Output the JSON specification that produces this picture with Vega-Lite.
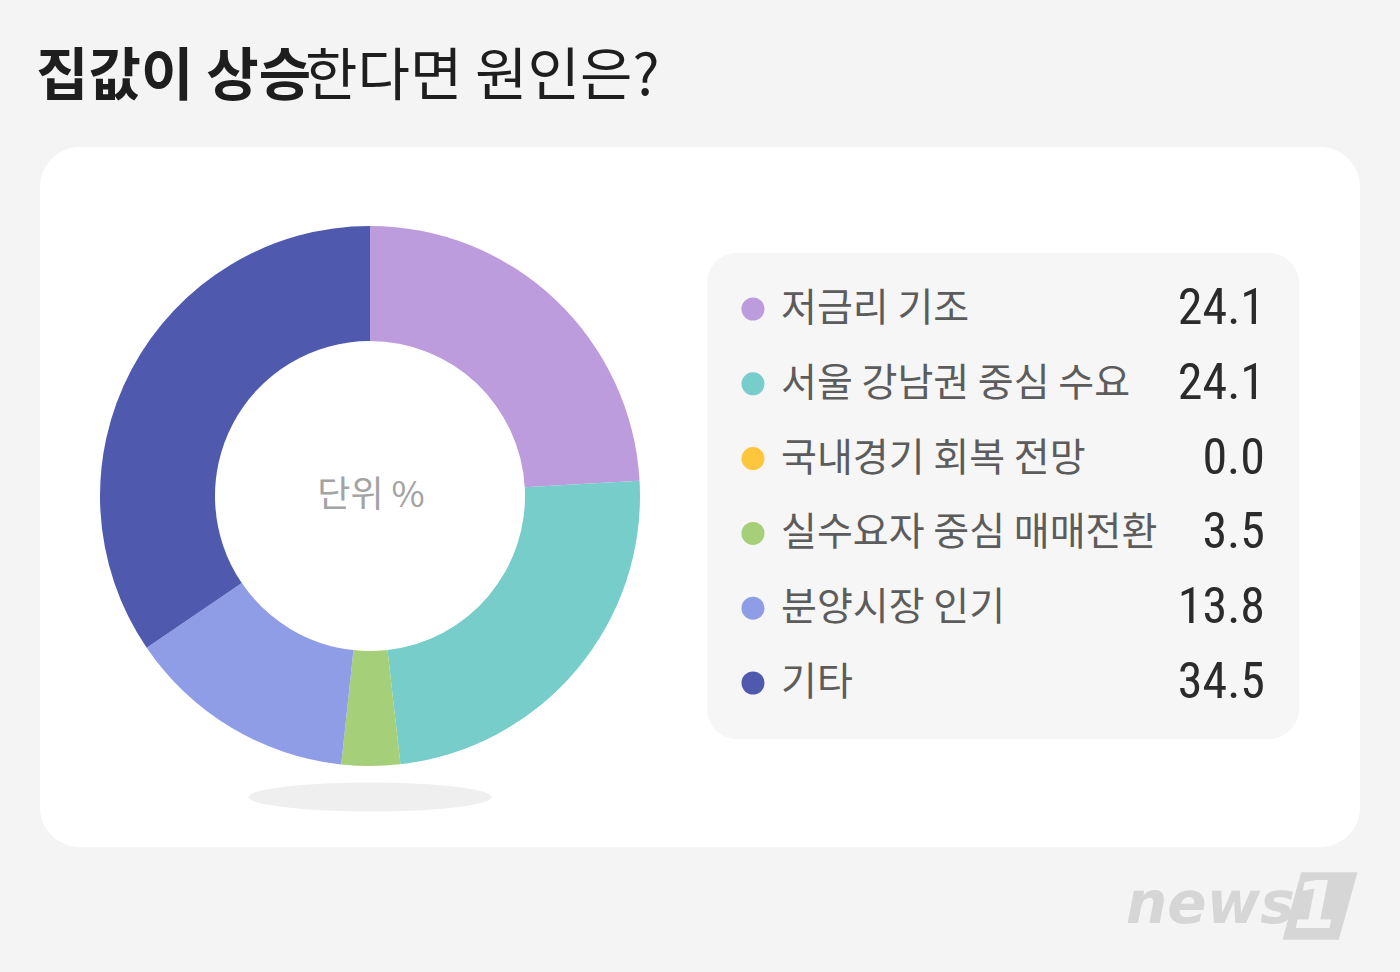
{
  "$schema": "https://vega.github.io/schema/vega-lite/v6.json",
  "width": 1400,
  "height": 972,
  "autosize": {"type": "fit", "contains": "padding"},
  "padding": 0,
  "background": "#f4f4f4",
  "config": {"view": {"stroke": null}},
  "datasets": {
    "shares": [
      {"rank": 1, "reason": "저금리 기조", "pct": 24.1, "shown": "24.1"},
      {"rank": 2, "reason": "서울 강남권 중심 수요", "pct": 24.1, "shown": "24.1"},
      {"rank": 3, "reason": "국내경기 회복 전망", "pct": 0.0, "shown": "0.0"},
      {"rank": 4, "reason": "실수요자 중심 매매전환", "pct": 3.5, "shown": "3.5"},
      {"rank": 5, "reason": "분양시장 인기", "pct": 13.8, "shown": "13.8"},
      {"rank": 6, "reason": "기타", "pct": 34.5, "shown": "34.5"}
    ],
    "one": [{}]
  },
  "resolve": {"scale": {"x": "independent", "y": "independent"}},
  "layer": [
    {
      "data": {"name": "one"},
      "mark": {"type": "rect", "fill": "#ffffff", "cornerRadius": 40},
      "encoding": {
        "x": {"datum": 40, "type": "quantitative", "scale": {"domain": [0, 1400]}, "axis": null},
        "x2": {"datum": 1360},
        "y": {"datum": 147, "type": "quantitative", "scale": {"domain": [0, 972], "reverse": true}, "axis": null},
        "y2": {"datum": 847}
      }
    },
    {
      "data": {"name": "one"},
      "mark": {"type": "rect", "fill": "#f6f6f6", "cornerRadius": 30},
      "encoding": {
        "x": {"datum": 707, "type": "quantitative", "scale": {"domain": [0, 1400]}, "axis": null},
        "x2": {"datum": 1299},
        "y": {"datum": 253, "type": "quantitative", "scale": {"domain": [0, 972], "reverse": true}, "axis": null},
        "y2": {"datum": 739}
      }
    },
    {
      "data": {"name": "one"},
      "mark": {"type": "point", "filled": true, "opacity": 1, "fill": "#efefef", "strokeWidth": 0, "shape": "M -1 0 A 1 0.12 0 1 0 1 0 A 1 0.12 0 1 0 -1 0 Z", "size": 59049},
      "encoding": {
        "x": {"datum": 370, "type": "quantitative", "scale": {"domain": [0, 1400]}, "axis": null},
        "y": {"datum": 797, "type": "quantitative", "scale": {"domain": [0, 972], "reverse": true}, "axis": null}
      }
    },
    {
      "data": {"name": "shares"},
      "mark": {"type": "arc", "innerRadius": 155, "outerRadius": 270},
      "encoding": {
        "x": {"datum": 370, "type": "quantitative", "scale": {"domain": [0, 1400]}, "axis": null},
        "y": {"datum": 496, "type": "quantitative", "scale": {"domain": [0, 972], "reverse": true}, "axis": null},
        "theta": {"field": "pct", "type": "quantitative", "stack": true},
        "order": {"field": "rank", "type": "quantitative", "sort": "ascending"},
        "color": {
          "field": "reason", "type": "nominal", "legend": null,
          "scale": {
            "domain": ["저금리 기조", "서울 강남권 중심 수요", "국내경기 회복 전망", "실수요자 중심 매매전환", "분양시장 인기", "기타"],
            "range": ["#bd9cde", "#77cdca", "#fdc63c", "#a6cf7a", "#8e9de5", "#4f5aaf"]
          }
        }
      }
    },
    {
      "data": {"name": "one"},
      "mark": {"type": "text", "text": "단위 %", "font": "Noto Sans CJK KR", "fontSize": 36, "fill": "#a3a3a3", "align": "center", "baseline": "middle"},
      "encoding": {
        "x": {"datum": 371, "type": "quantitative", "scale": {"domain": [0, 1400]}, "axis": null},
        "y": {"datum": 496, "type": "quantitative", "scale": {"domain": [0, 972], "reverse": true}, "axis": null}
      }
    },
    {
      "data": {"name": "shares"},
      "mark": {"type": "point", "filled": true, "opacity": 1, "size": 531, "shape": "circle"},
      "encoding": {
        "x": {"datum": 753, "type": "quantitative", "scale": {"domain": [0, 1400]}, "axis": null},
        "y": {"field": "rank", "type": "ordinal", "scale": {"type": "point", "range": [309, 683], "padding": 0}, "axis": null},
        "color": {
          "field": "reason", "type": "nominal", "legend": null,
          "scale": {
            "domain": ["저금리 기조", "서울 강남권 중심 수요", "국내경기 회복 전망", "실수요자 중심 매매전환", "분양시장 인기", "기타"],
            "range": ["#bd9cde", "#77cdca", "#fdc63c", "#a6cf7a", "#8e9de5", "#4f5aaf"]
          }
        }
      }
    },
    {
      "data": {"name": "shares"},
      "mark": {"type": "text", "font": "Noto Sans CJK KR", "fontSize": 39, "fill": "#5c5c5c", "align": "left", "baseline": "middle"},
      "encoding": {
        "x": {"datum": 781, "type": "quantitative", "scale": {"domain": [0, 1400]}, "axis": null},
        "y": {"field": "rank", "type": "ordinal", "scale": {"type": "point", "range": [309, 683], "padding": 0}, "axis": null},
        "text": {"field": "reason"}
      }
    },
    {
      "data": {"name": "shares"},
      "mark": {"type": "text", "font": "Roboto Condensed, Liberation Sans Narrow, DejaVu Sans Condensed, Roboto", "fontSize": 50, "fill": "#2b2b2b", "align": "right", "baseline": "middle"},
      "encoding": {
        "x": {"datum": 1265, "type": "quantitative", "scale": {"domain": [0, 1400]}, "axis": null},
        "y": {"field": "rank", "type": "ordinal", "scale": {"type": "point", "range": [309, 683], "padding": 0}, "axis": null},
        "text": {"field": "shown"}
      }
    },
    {
      "data": {"name": "one"},
      "mark": {"type": "text", "text": "집값이 상승", "font": "Noto Sans CJK KR", "fontWeight": "bold", "fontSize": 57, "fill": "#1e1e1e", "align": "left", "baseline": "middle"},
      "encoding": {
        "x": {"datum": 36, "type": "quantitative", "scale": {"domain": [0, 1400]}, "axis": null},
        "y": {"datum": 78, "type": "quantitative", "scale": {"domain": [0, 972], "reverse": true}, "axis": null}
      }
    },
    {
      "data": {"name": "one"},
      "mark": {"type": "text", "text": "한다면 원인은?", "font": "Noto Sans CJK KR", "fontWeight": "normal", "fontSize": 57, "fill": "#1e1e1e", "align": "left", "baseline": "middle"},
      "encoding": {
        "x": {"datum": 305, "type": "quantitative", "scale": {"domain": [0, 1400]}, "axis": null},
        "y": {"datum": 78, "type": "quantitative", "scale": {"domain": [0, 972], "reverse": true}, "axis": null}
      }
    },
    {
      "data": {"name": "one"},
      "mark": {"type": "text", "text": "news", "font": "DejaVu Sans", "fontStyle": "italic", "fontWeight": "bold", "fontSize": 58, "fill": "#d6d6d6", "align": "left", "baseline": "alphabetic"},
      "encoding": {
        "x": {"datum": 1126, "type": "quantitative", "scale": {"domain": [0, 1400]}, "axis": null},
        "y": {"datum": 923, "type": "quantitative", "scale": {"domain": [0, 972], "reverse": true}, "axis": null}
      }
    },
    {
      "data": {"name": "one"},
      "mark": {"type": "point", "filled": true, "opacity": 1, "fill": "#d6d6d6", "strokeWidth": 0, "size": 5625, "shape": "M -0.5 -0.9 L 1 -0.9 L 0.5 0.9 L -1 0.9 Z"},
      "encoding": {
        "x": {"datum": 1320, "type": "quantitative", "scale": {"domain": [0, 1400]}, "axis": null},
        "y": {"datum": 906, "type": "quantitative", "scale": {"domain": [0, 972], "reverse": true}, "axis": null}
      }
    },
    {
      "data": {"name": "one"},
      "mark": {"type": "text", "text": "1", "font": "DejaVu Sans", "fontStyle": "italic", "fontWeight": "bold", "fontSize": 66, "fill": "#f4f4f4", "align": "center", "baseline": "middle"},
      "encoding": {
        "x": {"datum": 1316, "type": "quantitative", "scale": {"domain": [0, 1400]}, "axis": null},
        "y": {"datum": 908, "type": "quantitative", "scale": {"domain": [0, 972], "reverse": true}, "axis": null}
      }
    }
  ]
}
